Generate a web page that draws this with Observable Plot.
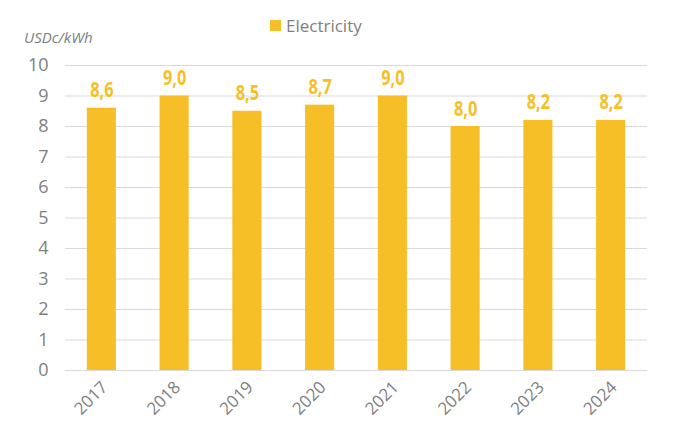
<!DOCTYPE html>
<html><head><meta charset="utf-8">
<script src="https://cdn.jsdelivr.net/npm/d3@7"></script>
<script src="https://cdn.jsdelivr.net/npm/@observablehq/plot@0.6"></script>
<style>
body{margin:0;background:#fff;font-family:"Open Sans",sans-serif;}
#wrap{position:relative;width:677px;height:435px;}
#legend{position:absolute;left:270px;top:14px;font-size:17px;color:#808080;display:flex;align-items:center;}
#legend span.sw{display:inline-block;width:11px;height:11px;background:#F7BF27;margin-right:5px;}
#unit{position:absolute;left:24px;top:27px;font-size:15px;font-style:italic;color:#808080;}
</style></head>
<body><div id="wrap"><div id="legend"><span class="sw"></span>Electricity</div><div id="unit">USDc/kWh</div></div>
<script>
const years = ["2017","2018","2019","2020","2021","2022","2023","2024"];
const values = [8.6, 9.0, 8.5, 8.7, 9.0, 8.0, 8.2, 8.2];
const yTicks = [0,1,2,3,4,5,6,7,8,9,10];
const data = years.map((y,i)=>({year:y, value:values[i]}));
const color = "#F7BF27";
const chart = Plot.plot({
  width:677, height:435,
  marginLeft:65, marginRight:30, marginTop:65, marginBottom:65,
  style:{fontFamily:"Open Sans", background:"transparent", overflow:"visible"},
  x:{domain:years, paddingInner:0.6, paddingOuter:0.3, round:false, label:null},
  y:{domain:[0,10], label:null},
  marks:[
    Plot.ruleY(yTicks,{stroke:"#d9d9d9", strokeWidth:1}),
    Plot.barY(data,{x:"year", y:"value", fill:color}),
    Plot.text(data,{x:"year", y:"value", text:d=>d.value.toFixed(1).replace(".",","), lineAnchor:"bottom", dy:-11, fill:color, fontSize:21, fontWeight:"bold", fontFamily:"Open Sans"}),
    Plot.axisY({ticks:yTicks, tickSize:0, tickPadding:17, fontSize:18, fill:"#808080", label:null}),
    Plot.axisX({tickSize:0, tickRotate:-45, tickPadding:14, dx:3, fontSize:17, fill:"#808080", label:null})
  ]
});
chart.querySelectorAll('g[aria-label="text"] text').forEach(t=>{
  const tr = t.getAttribute("transform") || "";
  t.setAttribute("transform", tr + " scale(0.78,1)");
});
chart.style.position="absolute"; chart.style.left="0"; chart.style.top="0";
document.getElementById("wrap").prepend(chart);
</script></body></html>
